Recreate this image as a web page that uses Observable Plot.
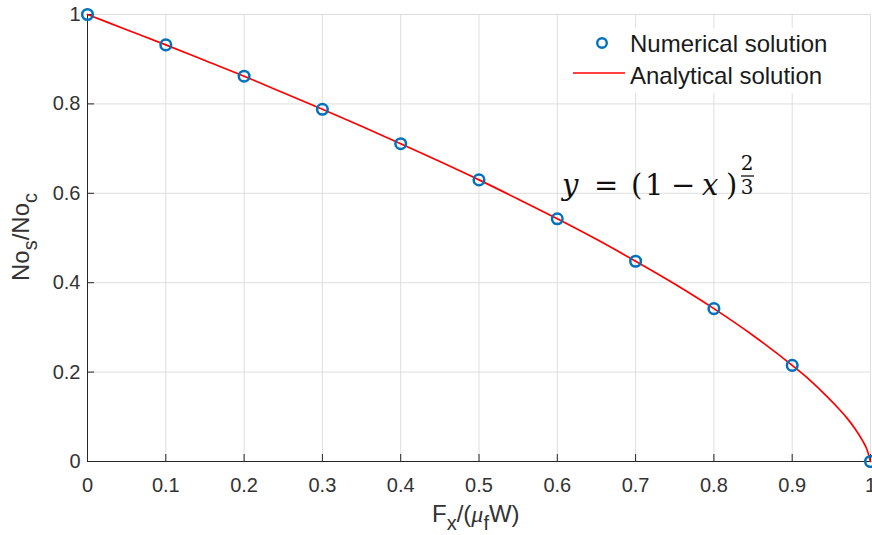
<!DOCTYPE html>
<html><head><meta charset="utf-8">
<script src="https://cdn.jsdelivr.net/npm/d3@7"></script>
<script src="https://cdn.jsdelivr.net/npm/@observablehq/plot@0.6"></script>
<style>body{margin:0;background:#fff} #chart{position:relative;width:872px;height:535px;overflow:hidden}</style>
</head><body><div id="chart"></div>
<script>
// Numerical solution (blue circles)
const numX = [0, 0.1, 0.2, 0.3, 0.4, 0.5, 0.6, 0.7, 0.8, 0.9, 1];
const numY = [1, 0.932, 0.862, 0.788, 0.711, 0.630, 0.543, 0.448, 0.342, 0.215, 0];
// Analytical solution (red curve)
const curveX = [0, 0.05, 0.1, 0.15, 0.2, 0.25, 0.3, 0.35, 0.4, 0.45, 0.5, 0.55, 0.6, 0.65, 0.7, 0.75, 0.8, 0.85, 0.9, 0.92, 0.94, 0.96, 0.97, 0.98, 0.99, 0.995, 1];
const curveY = [1, 0.966, 0.932, 0.897, 0.862, 0.825, 0.788, 0.750, 0.711, 0.671, 0.630, 0.587, 0.543, 0.497, 0.448, 0.397, 0.342, 0.282, 0.215, 0.186, 0.153, 0.117, 0.097, 0.074, 0.046, 0.029, 0];
const xTicks = [0, 0.1, 0.2, 0.3, 0.4, 0.5, 0.6, 0.7, 0.8, 0.9, 1];
const yTicks = [0, 0.2, 0.4, 0.6, 0.8, 1];
const legendLabels = ["Numerical solution", "Analytical solution"];

const fmt = d => String(+d.toFixed(1));
const numerical = numX.map((x, i) => ({x, y: numY[i]}));
const analytical = curveX.map((x, i) => ({x, y: curveY[i]}));

const axisColor = "#262626";
const blue = "#0072BD";
const red = "#FF0000";
const W = 872, H = 535, mL = 87, mR = 2, mT = 14, mB = 74;
const sans = "'Liberation Sans', Arial, Helvetica, sans-serif";

const plot = Plot.plot({
  width: W, height: H,
  marginLeft: mL, marginRight: mR, marginTop: mT, marginBottom: mB,
  style: {fontFamily: sans, fontSize: "20px", color: axisColor, background: "#fff", overflow: "visible"},
  x: {domain: [0, 1]},
  y: {domain: [0, 1]},
  marks: [
    Plot.gridX(xTicks, {stroke: "#dedede", strokeOpacity: 1}),
    Plot.gridY(yTicks, {stroke: "#dedede", strokeOpacity: 1}),
    Plot.axisX(xTicks, {tickSize: 0, tickPadding: 16, tickFormat: fmt, label: null, fill: "#333"}),
    Plot.axisY(yTicks, {tickSize: 0, tickPadding: 7, tickFormat: fmt, label: null, fill: "#333"}),
    // inward tick marks (7px)
    Plot.tickX(xTicks, {x: d => d, insetTop: (H - mT - mB) - 7, stroke: axisColor}),
    Plot.tickY(yTicks, {y: d => d, insetRight: (W - mL - mR) - 7, stroke: axisColor}),
    Plot.ruleY([0], {stroke: axisColor, strokeWidth: 1}),
    Plot.ruleX([0], {stroke: axisColor, strokeWidth: 1}),
    Plot.line(analytical, {x: "x", y: "y", stroke: red, strokeWidth: 1.7, curve: "monotone-x"}),
    Plot.dot(numerical, {x: "x", y: "y", r: 5.3, stroke: blue, strokeWidth: 2.5, fill: "none"})
  ]
});
document.getElementById("chart").appendChild(plot);

const svg = d3.select(plot);
// Axis labels
const xl = svg.append("text").attr("x", 432).attr("y", 522).attr("text-anchor", "start")
  .attr("font-family", sans).attr("font-size", 24).attr("fill", "#333");
xl.append("tspan").text("F");
xl.append("tspan").attr("font-size", 20).attr("dy", 8).text("x");
xl.append("tspan").attr("dy", -8).text("/(");
xl.append("tspan").attr("font-family", "'Liberation Serif', serif").attr("font-style", "italic").text("μ");
xl.append("tspan").attr("font-size", 20).attr("dy", 8).text("f");
xl.append("tspan").attr("dy", -8).text("W)");

const yl = svg.append("text").attr("transform", "translate(29,281) rotate(-90)").attr("text-anchor", "start")
  .attr("font-family", sans).attr("font-size", 24).attr("fill", "#333");
yl.append("tspan").text("No");
yl.append("tspan").attr("font-size", 20).attr("dy", 8).text("s");
yl.append("tspan").attr("dy", -8).text("/No");
yl.append("tspan").attr("font-size", 20).attr("dy", 8).text("c");

// Legend
const lg = svg.append("g").attr("text-anchor", "start");
lg.append("rect").attr("x", 562).attr("y", 28).attr("width", 290).attr("height", 65).attr("fill", "#fff");
lg.append("circle").attr("cx", 602).attr("cy", 43).attr("r", 4.8).attr("fill", "none").attr("stroke", blue).attr("stroke-width", 2.4);
lg.append("line").attr("x1", 573).attr("x2", 625).attr("y1", 73).attr("y2", 73).attr("stroke", red).attr("stroke-width", 1.7);
lg.selectAll("text.lab").data(legendLabels).join("text").attr("class", "lab")
  .attr("x", 630).attr("y", (d, i) => 52 + i * 32)
  .attr("font-family", sans).attr("font-size", 24).attr("fill", "#1a1a1a")
  .text(d => d);

// Equation annotation
const eq = svg.append("g").attr("font-family", "'DejaVu Serif', 'Liberation Serif', serif").attr("fill", "#111").attr("text-anchor", "start");
const parts = [["y", 562, true], ["=", 594, false], ["(", 631, false], ["1", 645, false], ["−", 671, false], ["x", 702, true], [")", 726, false]];
parts.forEach(([t, x, it]) => {
  eq.append("text").attr("x", x).attr("y", 195).attr("font-size", 29).attr("font-style", it ? "italic" : "normal").text(t);
});
eq.append("text").attr("x", 747).attr("y", 170).attr("text-anchor", "middle").attr("font-size", 20).text("2");
eq.append("line").attr("x1", 741).attr("x2", 754).attr("y1", 176).attr("y2", 176).attr("stroke", "#111").attr("stroke-width", 1.3);
eq.append("text").attr("x", 747).attr("y", 194).attr("text-anchor", "middle").attr("font-size", 20).text("3");
</script>
</body></html>
